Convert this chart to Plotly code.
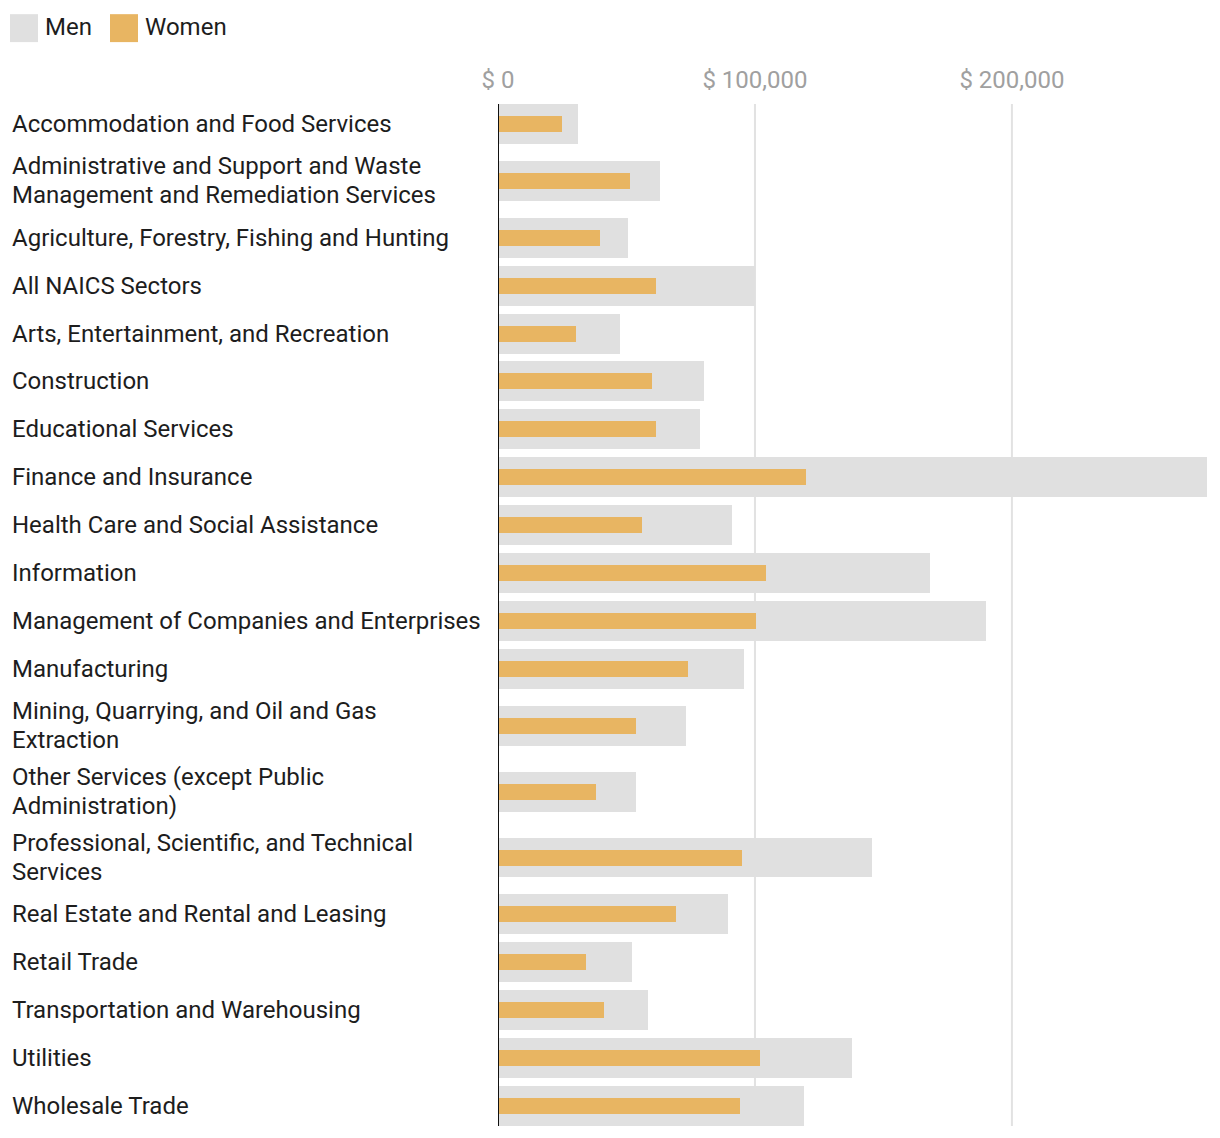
import plotly.graph_objects as go

categories = [
    "Accommodation and Food Services",
    "Administrative and Support and Waste<br>Management and Remediation Services",
    "Agriculture, Forestry, Fishing and Hunting",
    "All NAICS Sectors",
    "Arts, Entertainment, and Recreation",
    "Construction",
    "Educational Services",
    "Finance and Insurance",
    "Health Care and Social Assistance",
    "Information",
    "Management of Companies and Enterprises",
    "Manufacturing",
    "Mining, Quarrying, and Oil and Gas<br>Extraction",
    "Other Services (except Public<br>Administration)",
    "Professional, Scientific, and Technical<br>Services",
    "Real Estate and Rental and Leasing",
    "Retail Trade",
    "Transportation and Warehousing",
    "Utilities",
    "Wholesale Trade",
]
men = [31000, 63000, 50500, 100000, 47500, 80000, 78500, 276000, 91000, 168000,
       190000, 95700, 73000, 53700, 145500, 89500, 52000, 58300, 137700, 119000]
women = [24900, 51300, 39700, 61400, 30300, 59900, 61400, 119800, 56000, 104300,
         100400, 73900, 53700, 38100, 94900, 69200, 34200, 41200, 101900, 94100]
tick_vals = [0, 100000, 200000]
tick_text = ["$ 0", "$ 100,000", "$ 200,000"]

MEN_COLOR = "#e0e0e0"
WOMEN_COLOR = "#e8b562"
TEXT = "#1d1d1d"
FONT = "Roboto"

# page has an 8px body margin; positions below are page pixels
OFF = 8
PAGE_W, PAGE_H = 1220, 1138
W_FIG, H_FIG = PAGE_W - 2 * OFF, PAGE_H - 2 * OFF
PLOT_L, PLOT_R, PLOT_T = 498, 1208, 100

L = PLOT_L - OFF
R = W_FIG - (PLOT_R - OFF)
T = PLOT_T - OFF

LINE_H = 29
MEN_W, WOMEN_W = 40, 16
row_h = [48 + 18 * c.count("<br>") for c in categories]
centers = []
acc = 0
for h in row_h:
    centers.append(acc + h / 2)
    acc += h
total = acc
B = max(0, H_FIG - T - total)
PW = W_FIG - L - R
PH = total


def px_x(px):
    return (px - OFF - L) / PW


def px_y(py):
    return 1 - (py - OFF - T) / PH


fig = go.Figure()
fig.add_trace(go.Bar(
    x=men, y=centers, orientation="h", width=MEN_W,
    marker=dict(color=MEN_COLOR, line=dict(width=0)),
    name="Men", showlegend=False, hoverinfo="x",
))
fig.add_trace(go.Bar(
    x=women, y=centers, orientation="h", width=WOMEN_W,
    marker=dict(color=WOMEN_COLOR, line=dict(width=0)),
    name="Women", showlegend=False, hoverinfo="x",
))

annotations = []
for c, yc in zip(categories, centers):
    lines = c.split("<br>")
    n = len(lines)
    for i, ln in enumerate(lines):
        annotations.append(dict(
            text=ln, x=px_x(10), xref="paper",
            y=yc + (i - (n - 1) / 2) * LINE_H, yref="y",
            xanchor="left", yanchor="middle", align="left", showarrow=False,
            font=dict(family=FONT, size=24, color=TEXT),
        ))

shapes = []
y_top = centers[0] - MEN_W / 2
y_bot = centers[-1] + MEN_W / 2
# gridlines (below bars) and zero line (above bars)
for tv in tick_vals[1:]:
    shapes.append(dict(
        type="line", xref="x", yref="y", x0=tv, x1=tv, y0=y_top, y1=y_bot,
        line=dict(color="#e2e2e2", width=2), layer="below",
    ))
shapes.append(dict(
    type="line", xref="x", yref="y", x0=0, x1=0, y0=y_top, y1=y_bot,
    line=dict(color="#111111", width=2), layer="above",
))

# legend drawn manually
legend_items = [("Men", MEN_COLOR, 10), ("Women", WOMEN_COLOR, 110)]
for name, col, x0 in legend_items:
    shapes.append(dict(
        type="rect", xref="paper", yref="paper",
        x0=px_x(x0), x1=px_x(x0 + 28), y0=px_y(14), y1=px_y(42),
        fillcolor=col, line=dict(width=0), layer="above",
    ))
    annotations.append(dict(
        text=name, x=px_x(x0 + 33), xref="paper", y=px_y(27), yref="paper",
        xanchor="left", yanchor="middle", showarrow=False,
        font=dict(family=FONT, size=24, color=TEXT),
    ))

fig.update_layout(
    width=W_FIG, height=H_FIG,
    margin=dict(l=L, r=R, t=T, b=B, pad=0),
    plot_bgcolor="white", paper_bgcolor="white",
    barmode="overlay", bargap=0,
    showlegend=False,
    font=dict(family=FONT, color=TEXT),
    xaxis=dict(
        side="top", range=[0, 276300], tickvals=tick_vals, ticktext=tick_text,
        tickfont=dict(family=FONT, size=24, color="#a0a0a0"),
        showgrid=False, zeroline=False,
        ticks="", ticklabelstandoff=6, showline=False, fixedrange=True,
    ),
    yaxis=dict(
        range=[total, 0], showticklabels=False, showgrid=False,
        zeroline=False, ticks="", showline=False, fixedrange=True,
    ),
    annotations=annotations,
    shapes=shapes,
)

fig.write_html("out.html")
